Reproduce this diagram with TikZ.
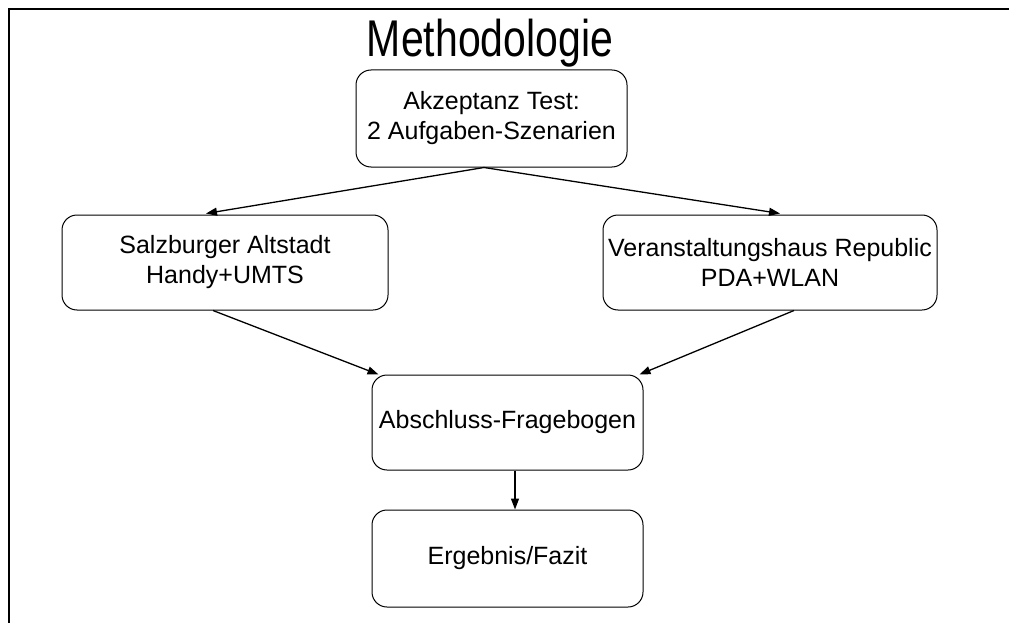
\documentclass[tikz,border=0pt]{standalone}
\usepackage{fontspec}
\setmainfont{Liberation Sans}
\usetikzlibrary{arrows.meta}
\begin{document}
\begin{tikzpicture}[x=1pt,y=-1pt,
  stepbox/.style={draw, line width=1pt, rounded corners=15pt, align=center,
    inner sep=0pt, font=\fontsize{25}{30}\selectfont},
  arr/.style={line width=1.3pt, -{Triangle[length=11pt,width=8pt]}}]
\useasboundingbox (0,0) rectangle (1009,623);
% frame along the top and left edges
\draw[line width=2pt] (9,623) |- (1009,9);
% title, set slightly taller than wide
\node[anchor=base, inner sep=0pt, font=\fontsize{41}{48}\selectfont] (title) at (490,57)
  {\scalebox{1}[1.26]{Methodologie}};
% boxes
\node[stepbox, minimum width=271pt, minimum height=97pt] (test) at (491.5,118.5)
  {Akzeptanz Test:\\2 Aufgaben-Szenarien};
\node[stepbox, minimum width=326pt, minimum height=95pt] (salz) at (225,262.5)
  {Salzburger Altstadt\\Handy+UMTS};
\node[stepbox, minimum width=334pt, minimum height=95pt] (rep) at (770,262.5)
  {Veranstaltungshaus Republic\\PDA+WLAN};
\node[stepbox, minimum width=271pt, minimum height=95pt] (frage) at (507.5,422.5)
  {Abschluss-Fragebogen};
\node[stepbox, minimum width=271pt, minimum height=97pt] (erg) at (507.5,558.5)
  {Ergebnis/Fazit};
% connectors
\draw[arr] ([xshift=-7.5pt]test.south) -- ([xshift=-19pt,yshift=1pt]salz.north);
\draw[arr] ([xshift=-7.5pt]test.south) -- ([xshift=10pt,yshift=1pt]rep.north);
\draw[arr] ([xshift=-12pt]salz.south) -- ([xshift=7pt]frage.north west);
\draw[arr] ([xshift=24pt]rep.south) -- ([xshift=-4pt]frage.north east);
\draw[arr] ([xshift=7.5pt]frage.south) -- ([xshift=7.5pt]erg.north);
\end{tikzpicture}
\end{document}
